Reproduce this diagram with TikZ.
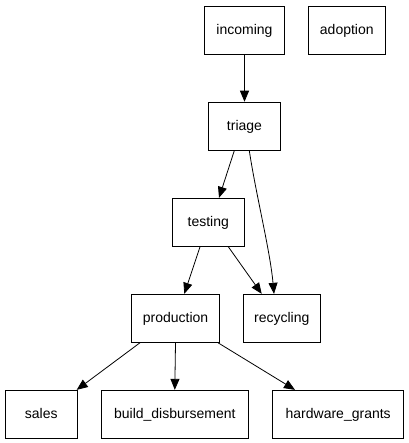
\documentclass[tikz,border=0pt]{standalone}
\usepackage{fontspec}
\setmainfont{Liberation Sans}
\usetikzlibrary{arrows.meta}
\begin{document}
\begin{tikzpicture}[x=1pt,y=-1pt,
  box/.style={draw,line width=0.9pt,inner sep=0pt,minimum height=48pt,text height=11pt,text depth=2.4pt,font=\fontsize{14}{16}\selectfont},
  edge/.style={line width=0.8pt,-{Triangle[length=11pt,width=9pt]}}]
\useasboundingbox (0,0) rectangle (408,443);
\node[box,minimum width=80pt] (incoming) at (244.5,30) {incoming};
\node[box,minimum width=77pt] (adoption) at (346.8,30) {adoption};
\node[box,minimum width=72pt] (triage) at (244.5,126.2) {triage};
\node[box,minimum width=72pt] (testing) at (208.3,222.3) {testing};
\node[box,minimum width=87.6pt] (production) at (175.5,318.3) {production};
\node[box,minimum width=77pt] (recycling) at (281.8,318.3) {recycling};
\node[box,minimum width=72.7pt] (sales) at (41.3,414.3) {sales};
\node[box,minimum width=147pt] (build) at (174.8,414.3) {build\_disbursement};
\node[box,minimum width=131pt] (hardware) at (338.2,414.3) {hardware\_grants};
\draw[edge] (incoming.south) -- (triage.north);
\draw[edge] ([xshift=-10.2pt]triage.south) -- ([xshift=10.7pt]testing.north);
\draw[edge] ([xshift=4.8pt]triage.south) .. controls (256,195) and (270,250) .. ([xshift=-7.8pt]recycling.north);
\draw[edge] ([xshift=-8.3pt]testing.south) -- ([xshift=8.8pt]production.north);
\draw[edge] ([xshift=20pt]testing.south) -- ([xshift=-20.1pt]recycling.north);
\draw[edge] ([xshift=-35.5pt]production.south) -- ([xshift=35.4pt]sales.north);
\draw[edge] (production.south) -- (build.north);
\draw[edge] ([xshift=42.5pt]production.south) -- ([xshift=-43.2pt]hardware.north);
\end{tikzpicture}
\end{document}
